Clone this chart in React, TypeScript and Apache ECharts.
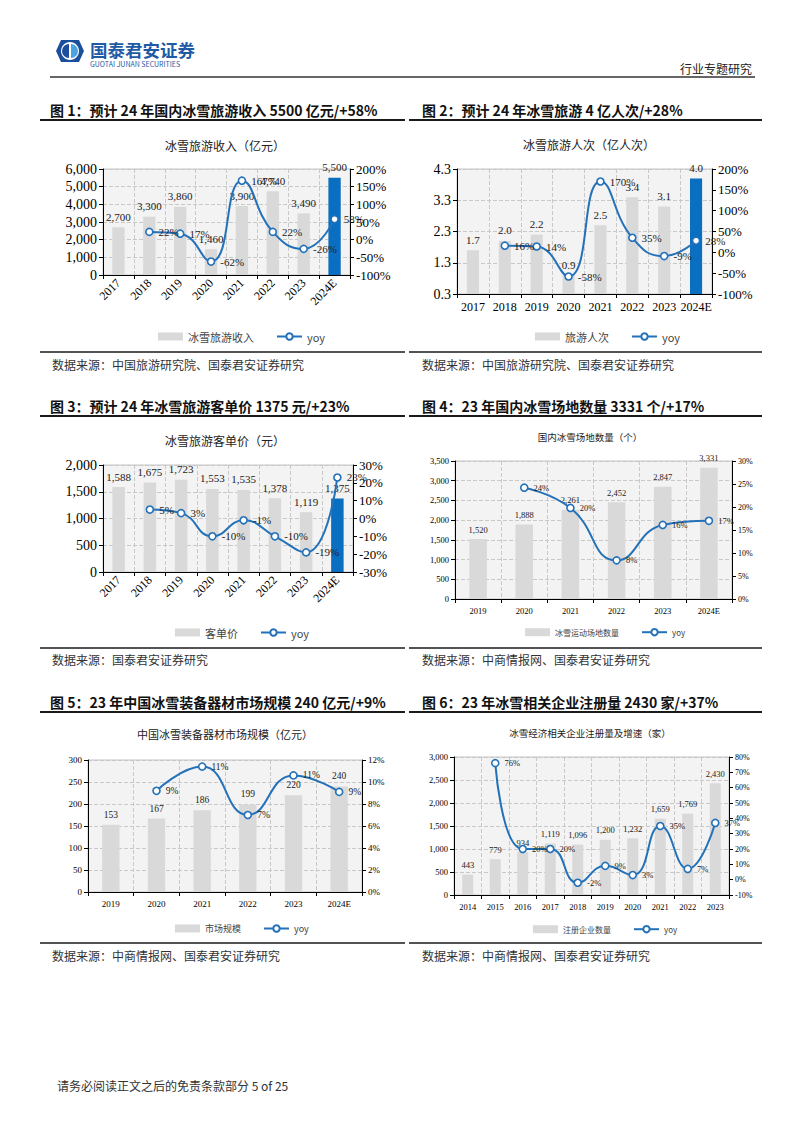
import React, { useEffect, useRef } from 'react';
import * as echarts from 'echarts';

const years8 = ['2017', '2018', '2019', '2020', '2021', '2022', '2023', '2024E'];
const years6 = ['2019', '2020', '2021', '2022', '2023', '2024E'];
const years10 = ['2014', '2015', '2016', '2017', '2018', '2019', '2020', '2021', '2022', '2023'];

const income = [2700, 3300, 3860, 1460, 3900, 4740, 3490, 5500];
const incomeYoy = [null, 22, 17, -62, 167, 22, -26, 58];
const visitors = [1.7, 2.0, 2.2, 0.9, 2.5, 3.4, 3.1, 4.0];
const visitorsYoy = [null, 16, 14, -58, 170, 35, -9, 28];
const price = [1588, 1675, 1723, 1553, 1535, 1378, 1119, 1375];
const priceYoy = [null, 5, 3, -10, -1, -10, -19, 23];
const venues = [1520, 1888, 2261, 2452, 2847, 3331];
const venuesYoy = [null, 24.2, 19.8, 8.4, 16.1, 17.0];
const equip = [153, 167, 186, 199, 220, 240];
const equipYoy = [null, 9.2, 11.4, 7.0, 10.6, 9.1];
const firms = [443, 779, 934, 1119, 1096, 1200, 1232, 1659, 1769, 2430];
const firmsYoy = [null, 76, 20, 20, -2, 9, 3, 35, 7, 37];

const sectionTitles = [
  '图 1：预计 24 年国内冰雪旅游收入 5500 亿元/+58%',
  '图 2：预计 24 年冰雪旅游 4 亿人次/+28%',
  '图 3：预计 24 年冰雪旅游客单价 1375 元/+23%',
  '图 4：23 年国内冰雪场地数量 3331 个/+17%',
  '图 5：23 年中国冰雪装备器材市场规模 240 亿元/+9%',
  '图 6：23 年冰雪相关企业注册量 2430 家/+37%',
];
const chartTitles = [
  '冰雪旅游收入（亿元）',
  '冰雪旅游人次（亿人次）',
  '冰雪旅游客单价（元）',
  '国内冰雪场地数量（个）',
  '中国冰雪装备器材市场规模（亿元）',
  '冰雪经济相关企业注册量及增速（家）',
];
const sources = [
  '数据来源：中国旅游研究院、国泰君安证券研究',
  '数据来源：中国旅游研究院、国泰君安证券研究',
  '数据来源：国泰君安证券研究',
  '数据来源：中商情报网、国泰君安证券研究',
  '数据来源：中商情报网、国泰君安证券研究',
  '数据来源：中商情报网、国泰君安证券研究',
];
const barNames = ['冰雪旅游收入', '旅游人次', '客单价', '冰雪运动场地数量', '市场规模', '注册企业数量'];

const SERIF = '"Liberation Serif", "DejaVu Serif", serif';
const SANS = '"Noto Sans CJK SC", "Noto Sans", sans-serif';
const GRAY = '#d9d9d9';
const HL = '#0b6fc1';
const LINE = '#2371b9';

type Cfg = {
  grid: number[];
  cats: string[];
  bar: number[];
  yoy: (number | null)[];
  left: number[];
  right: number[];
  rotate: number;
  highlight: boolean;
  axisFs: number;
  rAxisFs: number;
  xFs: number;
  dataFs: number;
  legendFs: number;
  legend: number[];
  barWidth: string;
  dec: number;
  title: number[];
  sym: number;
};

const cfgs: Cfg[] = [
  { grid: [103, 169, 247, 106], cats: years8, bar: income, yoy: incomeYoy, left: [0, 6000, 1000], right: [-100, 200, 50], rotate: 45, highlight: true, axisFs: 14, rAxisFs: 13, xFs: 12, dataFs: 11, legendFs: 11, legend: [153, 333], barWidth: '40%', dec: 0, title: [225, 145, 12], sym: 7 },
  { grid: [457, 169, 255, 125], cats: years8, bar: visitors, yoy: visitorsYoy, left: [0.3, 4.3, 1], right: [-100, 200, 50], rotate: 0, highlight: true, axisFs: 14, rAxisFs: 13, xFs: 12, dataFs: 11, legendFs: 11, legend: [530, 333], barWidth: '38%', dec: 1, title: [589, 144, 12], sym: 7 },
  { grid: [103, 465, 250, 107], cats: years8, bar: price, yoy: priceYoy, left: [0, 2000, 500], right: [-30, 30, 10], rotate: 45, highlight: true, axisFs: 14, rAxisFs: 13, xFs: 12, dataFs: 11, legendFs: 11, legend: [170, 629], barWidth: '40%', dec: 0, title: [225, 440, 12], sym: 7 },
  { grid: [455, 461, 277, 138], cats: years6, bar: venues, yoy: venuesYoy, left: [0, 3500, 500], right: [0, 30, 5], rotate: 0, highlight: false, axisFs: 8.5, rAxisFs: 8, xFs: 8.5, dataFs: 8.5, legendFs: 8, legend: [520, 630], barWidth: '38%', dec: 0, title: [590, 437, 9.5], sym: 7 },
  { grid: [88, 760, 274, 132], cats: years6, bar: equip, yoy: equipYoy, left: [0, 300, 50], right: [0, 12, 2], rotate: 0, highlight: false, axisFs: 9, rAxisFs: 9, xFs: 9, dataFs: 9.5, legendFs: 9, legend: [170, 926], barWidth: '38%', dec: 0, title: [225, 734, 11], sym: 7 },
  { grid: [454, 757, 275, 138], cats: years10, bar: firms, yoy: firmsYoy, left: [0, 3000, 500], right: [-10, 80, 10], rotate: 0, highlight: false, axisFs: 8.5, rAxisFs: 8, xFs: 8.5, dataFs: 8.5, legendFs: 8, legend: [528, 927], barWidth: '40%', dec: 0, title: [590, 733, 9.5], sym: 7 },
];

const sectionY = [110, 406, 702];
const sectionLineY = [120, 416, 712];
const sourceLineY = [352, 648, 943];
const sourceY = [364, 659, 955];

function fmtNum(v: number, dec: number) {
  if (dec > 0) return v.toFixed(dec);
  return Math.round(v).toLocaleString('en-US');
}

function buildOption() {
  const grid: any[] = [];
  const xAxis: any[] = [];
  const yAxis: any[] = [];
  const series: any[] = [];
  const legend: any[] = [];
  const graphic: any[] = [];

  cfgs.forEach((c, i) => {
    grid.push({
      left: c.grid[0], top: c.grid[1], width: c.grid[2], height: c.grid[3],
      show: true, backgroundColor: '#f3f3f3', borderColor: '#c4c4c4', borderWidth: 1,
      containLabel: false,
    });
    xAxis.push({
      gridIndex: i, type: 'category', data: c.cats, boundaryGap: true,
      axisLine: { show: true, onZero: false, lineStyle: { color: '#000', width: 1 } },
      axisTick: { show: true, length: 4, lineStyle: { color: '#000' } },
      axisLabel: { interval: 0, rotate: c.rotate, fontFamily: SERIF, fontSize: c.xFs, color: '#000', margin: c.rotate ? 6 : 7 },
      splitLine: { show: true, lineStyle: { color: '#c8c8c8', type: 'dashed', width: 1 } },
    });
    yAxis.push({
      gridIndex: i, type: 'value', position: 'left', min: c.left[0], max: c.left[1], interval: c.left[2],
      axisLine: { show: true, lineStyle: { color: '#000' } },
      axisTick: { show: true, length: 4, lineStyle: { color: '#000' } },
      axisLabel: { fontFamily: SERIF, fontSize: c.axisFs, color: '#000', margin: 6, formatter: (v: number) => fmtNum(v, c.dec) },
      splitLine: { show: true, lineStyle: { color: '#c8c8c8', type: 'dashed', width: 1 } },
    });
    yAxis.push({
      gridIndex: i, type: 'value', position: 'right', min: c.right[0], max: c.right[1], interval: c.right[2],
      axisLine: { show: true, lineStyle: { color: '#000' } },
      axisTick: { show: true, length: 4, lineStyle: { color: '#000' } },
      axisLabel: { fontFamily: SERIF, fontSize: c.rAxisFs, color: '#000', margin: 6, formatter: (v: number) => Math.round(v) + '%' },
      splitLine: { show: false },
    });
    series.push({
      type: 'bar', name: barNames[i], xAxisIndex: i, yAxisIndex: 2 * i,
      barWidth: c.barWidth,
      itemStyle: { color: GRAY },
      data: c.bar.map((v, k) => (c.highlight && k === c.bar.length - 1 ? { value: v, itemStyle: { color: HL } } : v)),
      label: {
        show: true, position: 'top', distance: 5, fontFamily: SERIF, fontSize: c.dataFs, color: '#222',
        formatter: (p: any) => fmtNum(p.value, c.dec),
      },
      z: 2,
    });
    series.push({
      type: 'line', name: 'yoy', xAxisIndex: i, yAxisIndex: 2 * i + 1,
      data: c.yoy, smooth: true, connectNulls: false,
      symbol: 'circle', symbolSize: c.sym,
      lineStyle: { color: LINE, width: 2 },
      itemStyle: { color: '#fff', borderColor: LINE, borderWidth: 1.6 },
      label: {
        show: true, position: 'right', distance: 5, fontFamily: SERIF, fontSize: c.dataFs, color: '#222',
        formatter: (p: any) => Math.round(p.value) + '%',
      },
      z: 3,
    });
    legend.push({
      left: c.legend[0], top: c.legend[1] - 7, orient: 'horizontal',
      itemWidth: 25, itemHeight: 8, itemGap: 22,
      textStyle: { fontFamily: SANS, fontSize: c.legendFs, color: '#444' },
      data: [
        { name: barNames[i], icon: 'rect', itemStyle: { color: GRAY } },
        { name: 'yoy' },
      ],
    });
    graphic.push({
      type: 'text', x: c.title[0], y: c.title[1],
      style: { text: chartTitles[i], font: `${c.title[2]}px ${SANS}`, fill: '#222', align: 'center', verticalAlign: 'middle' },
    });
  });

  for (let r = 0; r < 3; r++) {
    for (let col = 0; col < 2; col++) {
      const idx = r * 2 + col;
      const tx = col === 0 ? 50 : 422;
      graphic.push({
        type: 'text', x: tx, y: sectionY[r],
        style: { text: sectionTitles[idx], font: `bold 14px ${SANS}`, fill: '#111', align: 'left', verticalAlign: 'middle' },
      });
      const lx1 = col === 0 ? 40 : 409;
      const lx2 = col === 0 ? 405 : 762;
      graphic.push({
        type: 'line', shape: { x1: lx1, y1: sectionLineY[r], x2: lx2, y2: sectionLineY[r] },
        style: { stroke: '#1a1a1a', lineWidth: 2 },
      });
      graphic.push({
        type: 'line', shape: { x1: lx1, y1: sourceLineY[r], x2: lx2, y2: sourceLineY[r] },
        style: { stroke: '#1a1a1a', lineWidth: 1.5 },
      });
      graphic.push({
        type: 'text', x: col === 0 ? 52 : 422, y: sourceY[r],
        style: { text: sources[idx], font: `12px ${SANS}`, fill: '#333', align: 'left', verticalAlign: 'middle' },
      });
    }
  }

  // header logo
  graphic.push({
    type: 'polygon',
    shape: { points: [[61, 40], [79, 40], [84, 51], [79, 62], [61, 62], [56, 51]] },
    style: { fill: '#1b4f9b' },
  });
  graphic.push({ type: 'ellipse', shape: { cx: 70, cy: 51, rx: 9, ry: 9 }, style: { fill: '#ffffff' } });
  graphic.push({ type: 'sector', shape: { cx: 69, cy: 51, r: 7, startAngle: Math.PI / 2, endAngle: (Math.PI * 3) / 2 }, style: { fill: '#1b4f9b' } });
  graphic.push({ type: 'sector', shape: { cx: 71, cy: 51, r: 7, startAngle: -Math.PI / 2, endAngle: Math.PI / 2 }, style: { fill: '#4aa3e2' } });
  graphic.push({
    type: 'text', x: 90, y: 49,
    style: { text: '国泰君安证券', font: `bold 17.5px ${SANS}`, fill: '#1f5aa6', align: 'left', verticalAlign: 'middle' },
  });
  graphic.push({
    type: 'text', x: 90, y: 64,
    style: { text: 'GUOTAI JUNAN SECURITIES', font: `7px ${SANS}`, fill: '#1f5aa6', align: 'left', verticalAlign: 'middle' },
  });
  graphic.push({
    type: 'text', x: 752, y: 68,
    style: { text: '行业专题研究', font: `12px ${SANS}`, fill: '#222', align: 'right', verticalAlign: 'middle' },
  });
  graphic.push({
    type: 'line', shape: { x1: 50, y1: 77, x2: 755, y2: 77 },
    style: { stroke: '#333', lineWidth: 1.5 },
  });
  graphic.push({
    type: 'text', x: 57, y: 1085,
    style: { text: '请务必阅读正文之后的免责条款部分 5 of 25', font: `12px ${SANS}`, fill: '#333', align: 'left', verticalAlign: 'middle' },
  });

  return {
    animation: false,
    backgroundColor: '#ffffff',
    grid, xAxis, yAxis, series, legend, graphic,
  };
}

export default function App() {
  const ref = useRef<HTMLDivElement>(null);
  useEffect(() => {
    if (!ref.current) return;
    const chart = echarts.init(ref.current, undefined, { renderer: 'svg' });
    chart.setOption(buildOption() as any);
    return () => chart.dispose();
  }, []);
  return (
    <div
      ref={ref}
      style={{ position: 'absolute', left: 0, top: 0, width: 802, height: 1133, background: '#fff' }}
    />
  );
}
